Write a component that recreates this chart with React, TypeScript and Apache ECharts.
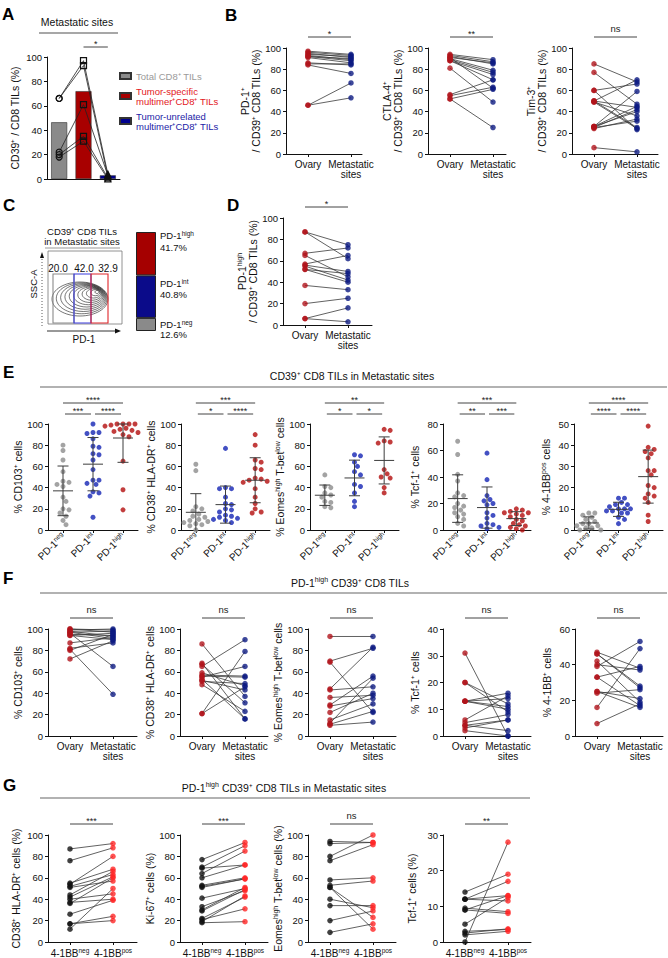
import React, { useEffect, useRef } from 'react';
import * as echarts from 'echarts';

const FONT = '"Liberation Sans", Arial, Helvetica, sans-serif';
const NB = '\u00a0';

// ---------- Panel A ----------
const aCategories = ['Total CD8⁺ TILs', 'Tumor-specific\nmultimer⁺CD8⁺ TILs', 'Tumor-unrelated\nmultimer⁺CD8⁺ TILs'];
const aBarValues = [46.5, 72, 3];
const aTotal = [66, 66, 22, 20, 18];
const aSpecific = [97, 93, 61, 35, 31];
const aUnrelated = [4, 2, 3, 1, 0];
const aSig = '*';

// ---------- Panel B ----------
const siteLabels = ['Ovary', 'Metastatic\nsites'];
const bPD1Ovary = [97, 96, 95, 94, 93, 92, 92, 91, 86, 85, 84, 46, 46];
const bPD1Meta = [94, 93, 91, 92, 89, 90, 88, 86, 84, 85, 76, 67, 53];
const bCTLA4Ovary = [94, 93, 92, 91, 90, 89, 88, 88, 81, 56, 55, 52, 52, 91];
const bCTLA4Meta = [89, 87, 85, 86, 79, 77, 75, 70, 49, 70, 63, 61, 25, 62];
const bTim3Ovary = [85, 77, 60, 60, 50, 50, 49, 49, 26, 26, 25, 25, 24, 6, 50, 26];
const bTim3Meta = [68, 47, 66, 23, 70, 44, 36, 24, 59, 45, 42, 31, 33, 2, 25, 40];
const bSig = ['*', '**', 'ns'];

// ---------- Panel C ----------
const cGatePct = [20.0, 42.0, 32.9];
const cGroups = ['neg', 'int', 'high'];
const cPct = [12.6, 40.8, 41.7];

// ---------- Panel D ----------
const dOvary = [87, 87, 67, 65, 57, 56, 55, 52, 52, 37, 20, 6, 6];
const dMeta = [75, 62, 72, 45, 65, 50, 42, 48, 40, 33, 25, 16, 3];
const dSig = '*';

// ---------- Panel E (PD-1 neg / int / high) ----------
const eCD103Neg = [80, 75, 66, 55, 46, 45, 43, 41, 31, 27, 20, 19, 16, 13, 9, 5];
const eCD103Int = [100, 92, 92, 91, 86, 79, 78, 72, 71, 66, 57, 47, 47, 44, 43, 36, 35, 32, 12];
const eCD103High = [100, 100, 100, 100, 99, 98, 98, 97, 96, 95, 94, 93, 92, 90, 88, 65, 38, 19];
const eCD38Neg = [62, 56, 22, 20, 18, 15, 13, 12, 10, 9, 8, 7, 6, 5, 4, 0];
const eCD38Int = [77, 40, 39, 39, 31, 25, 24, 20, 19, 17, 14, 13, 12, 11, 10, 9, 7];
const eCD38High = [90, 80, 66, 64, 58, 57, 49, 48, 47, 46, 45, 39, 31, 25, 20, 17, 16];
const eEomesNeg = [52, 41, 40, 35, 33, 31, 27, 26, 22, 21];
const eEomesInt = [71, 70, 64, 60, 55, 52, 43, 41, 35, 27, 22];
const eEomesHigh = [95, 94, 84, 83, 82, 57, 53, 50, 49, 40, 35];
const eTcfNeg = [67, 57, 42, 37, 28, 26, 25, 20, 18, 17, 15, 13, 12, 10, 8, 5, 3];
const eTcfInt = [58, 38, 26, 23, 22, 20, 19, 13, 11, 9, 5, 4, 3, 2, 1];
const eTcfHigh = [16, 15, 14, 13, 13, 12, 12, 11, 10, 8, 7, 5, 4, 3, 2, 1, 0];
const e41bbNeg = [8, 8, 7, 6, 5, 4, 3, 3, 2, 2, 1, 1, 0, 0, 0];
const e41bbInt = [15, 15, 13, 12, 12, 11, 10, 10, 10, 9, 9, 8, 8, 6, 5, 3];
const e41bbHigh = [49, 39, 38, 37, 36, 34, 28, 28, 26, 21, 20, 17, 16, 15, 13, 7, 4];
const eSigCD103 = ['****', '***', '****'];
const eSigCD38 = ['***', '*', '****'];
const eSigEomes = ['**', '*', '*'];
const eSigTcf = ['***', '**', '***'];
const eSig41bb = ['****', '****', '****'];

// ---------- Panel F (Ovary vs Metastatic sites) ----------
const fCD103Ovary = [100, 100, 99, 98, 97, 96, 95, 94, 94, 87, 82, 81, 80, 72, 97];
const fCD103Meta = [99, 97, 100, 93, 98, 65, 94, 90, 96, 92, 87, 39, 95, 89, 91];
const fCD38Ovary = [86, 68, 67, 65, 59, 57, 56, 55, 53, 52, 51, 48, 21, 21];
const fCD38Meta = [37, 16, 31, 90, 47, 56, 55, 65, 16, 43, 49, 23, 46, 79];
const fEomesOvary = [93, 70, 69, 44, 36, 29, 28, 22, 15, 12, 11, 10, 43];
const fEomesMeta = [93, 82, 22, 83, 38, 56, 35, 40, 30, 54, 23, 13, 46];
const fTcfOvary = [31, 20, 20, 13, 13, 13, 6, 5, 4, 4, 3, 2, 13];
const fTcfMeta = [0, 12, 9, 16, 14, 11, 15, 8, 2, 6, 6, 0, 10];
const f41bbOvary = [47, 46, 42, 40, 39, 33, 25, 25, 24, 16, 7, 46, 33];
const f41bbMeta = [38, 27, 19, 37, 53, 17, 21, 16, 26, 49, 18, 28, 39];
const fSig = ['ns', 'ns', 'ns', 'ns', 'ns'];

// ---------- Panel G (4-1BB neg vs pos) ----------
const gCD38Neg = [87, 76, 55, 54, 52, 51, 44, 42, 40, 37, 36, 26, 17, 17, 12];
const gCD38Pos = [92, 88, 68, 80, 63, 57, 66, 61, 45, 40, 60, 39, 24, 20, 50];
const gKi67Neg = [77, 70, 69, 64, 60, 53, 51, 41, 33, 30, 29, 22, 21, 19, 18, 52];
const gKi67Pos = [93, 90, 72, 85, 72, 60, 59, 50, 48, 51, 49, 42, 31, 43, 19, 59];
const gEomesNeg = [94, 92, 80, 76, 58, 53, 51, 51, 40, 34, 20, 9];
const gEomesPos = [93, 93, 100, 91, 60, 57, 12, 23, 32, 34, 29, 17];
const gTcfNeg = [14, 12, 12, 12, 9.5, 9, 9, 5, 3, 2.5, 2, 0];
const gTcfPos = [19, 17, 13, 11.5, 8.5, 13, 8, 12.5, 3.5, 3.7, 3, 28];
const gSig = ['***', '***', 'ns', '**'];

// ---------- styles ----------
const GRAY = '#8c8c8c';
const E_BLUE = '#1424b4';
const E_RED = '#b30c0c';
const OV_RED = '#b0141c';
const MET_BLUE = '#0d1a82';
const G_BLACK = '#111111';
const G_RED = '#ff2626';
const AX = { color: '#111', width: 1 };

const RICH_AX = {
  n: { fontSize: 10.5, fontFamily: FONT, color: '#111', lineHeight: 11, verticalAlign: 'bottom' },
  s: { fontSize: 7, fontFamily: FONT, color: '#111', lineHeight: 7, verticalAlign: 'top' },
};
const RICH_X = {
  n: { fontSize: 10, fontFamily: FONT, color: '#111', lineHeight: 11, verticalAlign: 'bottom' },
  s: { fontSize: 6.5, fontFamily: FONT, color: '#111', lineHeight: 7, verticalAlign: 'top' },
};
const RICH_G = {
  n: { fontSize: 10.5, fontFamily: FONT, fill: '#111', lineHeight: 12, verticalAlign: 'bottom' },
  s: { fontSize: 7, fontFamily: FONT, fill: '#111', lineHeight: 8, verticalAlign: 'top' },
};
const RICH_G9 = {
  n: { fontSize: 9.5, fontFamily: FONT, fill: '#111', lineHeight: 11, verticalAlign: 'bottom' },
  s: { fontSize: 6.5, fontFamily: FONT, fill: '#111', lineHeight: 7, verticalAlign: 'top' },
};

const sup = (a: string, b: string) => `{n|${a}}{s|${b}}`;
const nrm = (a: string) => `{n|${a}}`;

function mean(v: number[]) {
  return v.reduce((s, x) => s + x, 0) / v.length;
}
function sd(v: number[]) {
  const m = mean(v);
  return Math.sqrt(v.reduce((s, x) => s + (x - m) * (x - m), 0) / (v.length - 1));
}
function swarm(vals: number[], pxY: number, d: number): number[] {
  const order = vals.map((_, i) => i).sort((p, q) => vals[q] - vals[p]);
  const placed: number[][] = [];
  const out: number[] = new Array(vals.length).fill(0);
  for (const i of order) {
    const y = vals[i] * pxY;
    let x = 0;
    for (let k = 0; k < 30; k++) {
      const c = k === 0 ? 0 : (k % 2 ? 1 : -1) * Math.ceil(k / 2) * d * 0.6;
      if (placed.every(([px, py]) => (px - c) ** 2 + (py - y) ** 2 >= (d * 0.98) ** 2)) {
        x = c;
        break;
      }
    }
    placed.push([x, y]);
    out[i] = x;
  }
  return out;
}

function buildOption() {
  const grids: any[] = [];
  const xAxes: any[] = [];
  const yAxes: any[] = [];
  const series: any[] = [];
  const graphics: any[] = [];

  const addGrid = (r: any) => {
    grids.push({ ...r, containLabel: false, outerBoundsMode: 'none' });
    return grids.length - 1;
  };
  const yAxisCfg = (gi: number, max: number, interval: number, name: string, nameGap: number, show = true) => ({
    gridIndex: gi,
    type: 'value',
    min: 0,
    max,
    interval,
    show,
    axisLine: { show: true, onZero: false, lineStyle: AX },
    axisTick: { show: true, length: 3, lineStyle: AX },
    axisLabel: { fontSize: 9.5, color: '#111', margin: 5, fontFamily: FONT },
    splitLine: { show: false },
    name,
    nameLocation: 'middle',
    nameGap,
    nameRotate: 90,
    nameTextStyle: { rich: RICH_AX, fontSize: 10.5, color: '#111', fontFamily: FONT, lineHeight: 11 },
  });
  const txt = (x: number, y: number, text: string, o: any = {}) => {
    const align = o.align || 'center';
    const va = o.va || 'middle';
    graphics.push({
      type: 'text',
      silent: true,
      x,
      y,
      rotation: o.rotation || 0,
      style: {
        text,
        x: 0,
        y: 0,
        fill: o.fill || '#111',
        fontSize: o.fontSize || 10.5,
        fontFamily: FONT,
        fontWeight: o.fontWeight || 'normal',
        align,
        verticalAlign: va,
        textAlign: align,
        textVerticalAlign: va,
        rich: o.rich,
      },
    });
  };
  const hLine = (x1: number, x2: number, y: number, color = '#444', w = 1) => {
    graphics.push({ type: 'line', silent: true, shape: { x1, y1: y, x2, y2: y }, style: { stroke: color, lineWidth: w } });
  };
  const sigText = (x: number, lineY: number, label: string) => {
    const star = label.includes('*');
    txt(x, star ? lineY - 3 : lineY - 9, label, { fontSize: star ? 9 : 9.5, fill: '#222' });
  };

  // ---------------- Panel A ----------------
  const aRect = { left: 47, top: 57, width: 73, height: 122 };
  const gA = addGrid(aRect);
  xAxes.push({
    gridIndex: gA,
    type: 'category',
    data: aCategories,
    boundaryGap: true,
    axisLine: { show: true, lineStyle: AX },
    axisTick: { show: false },
    axisLabel: { show: false },
    splitLine: { show: false },
  });
  yAxes.push(yAxisCfg(gA, 100, 20, nrm('CD39⁺ / CD8 TILs (%)'), 27));
  const aColors = ['#8a8a8a', '#a80000', '#00008e'];
  aCategories.forEach((c, i) => {
    series.push({
      type: 'bar',
      name: c,
      xAxisIndex: gA,
      yAxisIndex: gA,
      data: aBarValues.map((v, j) => (j === i ? v : '-')),
      barWidth: 16,
      barGap: '-100%',
      itemStyle: { color: aColors[i], borderColor: '#333', borderWidth: 0.6 },
      silent: true,
      z: 1,
    });
  });
  aTotal.forEach((t, i) => {
    series.push({
      type: 'line',
      xAxisIndex: gA,
      yAxisIndex: gA,
      data: [
        { value: t, symbol: 'circle' },
        { value: aSpecific[i], symbol: 'rect' },
        { value: aUnrelated[i], symbol: 'triangle' },
      ],
      symbolSize: 6,
      showSymbol: true,
      lineStyle: { color: '#222', width: 0.8 },
      itemStyle: { color: 'rgba(255,255,255,0)', borderColor: '#111', borderWidth: 1.2 },
      silent: true,
      z: 3,
    });
  });
  txt(77, 22, 'Metastatic sites', { fontSize: 10.5 });
  hLine(39, 118, 33, '#8a8a8a', 1.5);
  {
    const band = aRect.width / 3;
    const x1 = aRect.left + band * 1.5;
    const x2 = aRect.left + band * 2.5;
    hLine(x1, x2, 47);
    sigText((x1 + x2) / 2, 47, aSig);
  }

  // ---------------- paired panels ----------------
  const pairedPanel = (rect: any, yMax: number, yInt: number, name: string, nameGap: number, a: number[], b: number[], colA: string, colB: string, xLabels: string[], sig: string) => {
    const gi = addGrid(rect);
    const unit = 43;
    const first = 22;
    const xmin = 1 - first / unit;
    const xmax = xmin + rect.width / unit;
    xAxes.push({
      gridIndex: gi,
      type: 'value',
      min: xmin,
      max: xmax,
      axisLine: { show: true, onZero: false, lineStyle: AX },
      axisTick: { show: true, customValues: [1, 2], length: 3, lineStyle: AX },
      axisLabel: {
        show: true,
        customValues: [1, 2],
        formatter: (v: number) => xLabels[Math.round(v) - 1] ?? '',
        fontSize: 10,
        color: '#111',
        margin: 5,
        lineHeight: 10.5,
        fontFamily: FONT,
        rich: RICH_X,
      },
      splitLine: { show: false },
    });
    yAxes.push(yAxisCfg(gi, yMax, yInt, name, nameGap));
    series.push({
      type: 'custom',
      coordinateSystem: 'cartesian2d',
      xAxisIndex: gi,
      yAxisIndex: gi,
      silent: true,
      z: 2,
      encode: { x: 0, y: 1 },
      data: a.map((v, i) => [1.5, v, b[i]]),
      renderItem: (params: any, api: any) => {
        const p1 = api.coord([1, api.value(1)]);
        const p2 = api.coord([2, api.value(2)]);
        return {
          type: 'line',
          shape: { x1: p1[0], y1: p1[1], x2: p2[0], y2: p2[1] },
          style: { stroke: '#3a3a3a', lineWidth: 0.8 },
        };
      },
    });
    series.push({ type: 'scatter', xAxisIndex: gi, yAxisIndex: gi, data: a.map((v) => [1, v]), symbolSize: 5.5, itemStyle: { color: colA }, silent: true, z: 3 });
    series.push({ type: 'scatter', xAxisIndex: gi, yAxisIndex: gi, data: b.map((v) => [2, v]), symbolSize: 5.5, itemStyle: { color: colB }, silent: true, z: 3 });
    const x1 = rect.left + first;
    const x2 = rect.left + first + unit;
    hLine(x1, x2, rect.top - 11);
    sigText((x1 + x2) / 2, rect.top - 11, sig);
  };

  const slash = nrm('/ CD39⁺ CD8 TILs (%)');
  // B
  pairedPanel({ left: 286, top: 48, width: 76, height: 106 }, 100, 20, nrm('PD-1⁺') + '\n' + slash, 23, bPD1Ovary, bPD1Meta, OV_RED, MET_BLUE, siteLabels, bSig[0]);
  pairedPanel({ left: 428, top: 48, width: 78, height: 106 }, 100, 20, nrm('CTLA-4⁺') + '\n' + slash, 23, bCTLA4Ovary, bCTLA4Meta, OV_RED, MET_BLUE, siteLabels, bSig[1]);
  pairedPanel({ left: 572, top: 48, width: 86, height: 106 }, 100, 20, nrm('Tim-3⁺') + '\n' + slash, 23, bTim3Ovary, bTim3Meta, OV_RED, MET_BLUE, siteLabels, bSig[2]);
  // D
  pairedPanel({ left: 283, top: 218, width: 89, height: 107 }, 100, 20, sup('PD-1', 'high') + '\n' + slash, 23, dOvary, dMeta, OV_RED, MET_BLUE, siteLabels, dSig);

  // ---------------- Panel C ----------------
  const cRect = { left: 136, top: 232, width: 20, height: 99 };
  const gC = addGrid(cRect);
  xAxes.push({ gridIndex: gC, type: 'category', data: ['PD-1'], show: false });
  yAxes.push({ gridIndex: gC, type: 'value', min: 0, max: cPct.reduce((s, v) => s + v, 0), show: false, splitLine: { show: false } });
  const cColors = ['#8a8a8a', '#0b0b8a', '#a50000'];
  cGroups.forEach((g, i) => {
    series.push({
      type: 'bar',
      name: 'PD-1 ' + g,
      xAxisIndex: gC,
      yAxisIndex: gC,
      stack: 'pd1',
      data: [cPct[i]],
      barWidth: cRect.width,
      itemStyle: { color: cColors[i], borderColor: '#222', borderWidth: 1 },
      silent: true,
      z: 2,
    });
  });
  const cLabelY = [
    [324, 334],
    [283, 294],
    [235, 247],
  ];
  cGroups.forEach((g, i) => {
    txt(160, cLabelY[i][0], sup('PD-1', g), { align: 'left', rich: RICH_G9, fontSize: 9.5 });
    txt(160, cLabelY[i][1], `${cPct[i].toFixed(1)}%`, { align: 'left', fontSize: 9.5 });
  });
  // flow cytometry sketch
  txt(82, 231, 'CD39⁺ CD8 TILs', { fontSize: 9.5 });
  txt(82, 241, 'in Metastatic sites', { fontSize: 9.5 });
  hLine(45, 120, 248, '#999', 1.2);
  graphics.push({ type: 'rect', silent: true, shape: { x: 48, y: 251, width: 74, height: 73 }, style: { fill: 'none', stroke: '#777', lineWidth: 0.8 } });
  for (let k = 0; k <= 10; k++) {
    const t = k / 10;
    graphics.push({
      type: 'ellipse',
      silent: true,
      shape: { cx: 80 + 17 * t, cy: 299 - 7 * t, rx: 2 + 26 * (1 - t), ry: 1.5 + 15.5 * (1 - t) },
      style: { fill: 'none', stroke: '#1a1a1a', lineWidth: 0.6 },
    });
  }
  const gates = [
    { x1: 53, x2: 74, c: '#8a8a8a' },
    { x1: 74, x2: 91, c: '#3b3bdc' },
    { x1: 91, x2: 108, c: '#e0262b' },
  ];
  gates.forEach((g) => {
    graphics.push({ type: 'rect', silent: true, shape: { x: g.x1, y: 274, width: g.x2 - g.x1, height: 49 }, style: { fill: 'none', stroke: g.c, lineWidth: 1.1 } });
  });
  const gateCenters = [58, 84, 108];
  cGatePct.forEach((p, i) => txt(gateCenters[i], 268, p.toFixed(1), { fontSize: 10 }));
  graphics.push({ type: 'line', silent: true, shape: { x1: 42, y1: 256, x2: 42, y2: 326 }, style: { stroke: '#333', lineWidth: 0.8, lineDash: [1, 2] } });
  graphics.push({ type: 'polygon', silent: true, shape: { points: [[40, 258], [44, 258], [42, 252]] }, style: { fill: '#111' } });
  graphics.push({ type: 'line', silent: true, shape: { x1: 47, y1: 331, x2: 116, y2: 331 }, style: { stroke: '#333', lineWidth: 1 } });
  graphics.push({ type: 'polygon', silent: true, shape: { points: [[115, 328.5], [115, 333.5], [121, 331]] }, style: { fill: '#111' } });
  txt(33, 284, 'SSC-A', { fontSize: 9.5, rotation: Math.PI / 2 });
  txt(84, 339, 'PD-1', { fontSize: 10 });

  // ---------------- Panel E ----------------
  const E_X_LABELS = [sup('PD-1', 'neg'), sup('PD-1', 'int'), sup('PD-1', 'high')];
  const dotPanel = (rect: any, yMax: number, yInt: number, name: string, groups: number[][], sig: string[]) => {
    const gi = addGrid(rect);
    xAxes.push({
      gridIndex: gi,
      type: 'value',
      min: -0.5,
      max: 2.5,
      axisLine: { show: true, onZero: false, lineStyle: AX },
      axisTick: { show: true, customValues: [0, 1, 2], length: 3, lineStyle: AX },
      axisLabel: {
        show: true,
        customValues: [0, 1, 2],
        rotate: 45,
        margin: 4,
        fontSize: 10,
        color: '#111',
        fontFamily: FONT,
        formatter: (v: number) => E_X_LABELS[Math.round(v)] ?? '',
        rich: RICH_X,
      },
      splitLine: { show: false },
    });
    yAxes.push(yAxisCfg(gi, yMax, yInt, name, 23));
    const pxCat = rect.width / 3;
    const pxY = rect.height / yMax;
    const cols = [GRAY, E_BLUE, E_RED];
    groups.forEach((vals, ci) => {
      const offs = swarm(vals, pxY, 5);
      series.push({
        type: 'scatter',
        xAxisIndex: gi,
        yAxisIndex: gi,
        data: vals.map((v, k) => [ci + offs[k] / pxCat, v]),
        symbolSize: 5,
        itemStyle: { color: cols[ci] },
        silent: true,
        z: 3,
      });
    });
    series.push({
      type: 'custom',
      coordinateSystem: 'cartesian2d',
      xAxisIndex: gi,
      yAxisIndex: gi,
      silent: true,
      z: 4,
      encode: { x: 0, y: 1 },
      data: groups.map((vals, ci) => [ci, mean(vals), sd(vals)]),
      renderItem: (params: any, api: any) => {
        const c = api.value(0);
        const m = api.value(1);
        const s = api.value(2);
        const lo = Math.max(0, m - s);
        const hi = Math.min(yMax, m + s);
        const pm = api.coord([c, m]);
        const pl = api.coord([c, lo]);
        const ph = api.coord([c, hi]);
        const st = { stroke: '#3d3d3d', lineWidth: 1 };
        const children: any[] = [
          { type: 'line', shape: { x1: pl[0], y1: pl[1], x2: ph[0], y2: ph[1] }, style: st },
          { type: 'line', shape: { x1: pm[0] - 10, y1: pm[1], x2: pm[0] + 10, y2: pm[1] }, style: st },
          { type: 'line', shape: { x1: ph[0] - 5.5, y1: ph[1], x2: ph[0] + 5.5, y2: ph[1] }, style: st },
        ];
        if (m - s > 0) children.push({ type: 'line', shape: { x1: pl[0] - 5.5, y1: pl[1], x2: pl[0] + 5.5, y2: pl[1] }, style: st });
        return { type: 'group', children };
      },
    });
    const cx = [0, 1, 2].map((i) => rect.left + (i + 0.5) * pxCat);
    const yTop = rect.top - 21;
    const yLow = rect.top - 10;
    hLine(cx[0], cx[2], yTop);
    sigText((cx[0] + cx[2]) / 2, yTop, sig[0]);
    hLine(cx[0] + 2, cx[1] - 2, yLow);
    sigText((cx[0] + cx[1]) / 2, yLow, sig[1]);
    hLine(cx[1] + 2, cx[2] - 2, yLow);
    sigText((cx[1] + cx[2]) / 2, yLow, sig[2]);
  };

  const eomesName = sup('% Eomes', 'high') + sup(NB + 'T-bet', 'low') + nrm(NB + 'cells');
  dotPanel({ left: 48, top: 424, width: 90, height: 106 }, 100, 20, nrm('% CD103⁺ cells'), [eCD103Neg, eCD103Int, eCD103High], eSigCD103);
  dotPanel({ left: 181, top: 424, width: 89, height: 106 }, 100, 20, nrm('% CD38⁺ HLA-DR⁺ cells'), [eCD38Neg, eCD38Int, eCD38High], eSigCD38);
  dotPanel({ left: 310, top: 424, width: 89, height: 106 }, 100, 20, eomesName, [eEomesNeg, eEomesInt, eEomesHigh], eSigEomes);
  dotPanel({ left: 443, top: 424, width: 88, height: 106 }, 80, 20, nrm('% Tcf-1⁺ cells'), [eTcfNeg, eTcfInt, eTcfHigh], eSigTcf);
  dotPanel({ left: 574, top: 424, width: 89, height: 106 }, 50, 10, sup('% 4-1BB', 'pos') + nrm(NB + 'cells'), [e41bbNeg, e41bbInt, e41bbHigh], eSig41bb);
  txt(352, 376, 'CD39⁺ CD8 TILs in Metastatic sites', { fontSize: 10.5 });
  hLine(40, 667, 387, '#999', 1.5);

  // ---------------- Panel F ----------------
  pairedPanel({ left: 48, top: 629, width: 89, height: 107 }, 100, 20, nrm('% CD103⁺ cells'), 23, fCD103Ovary, fCD103Meta, OV_RED, MET_BLUE, siteLabels, fSig[0]);
  pairedPanel({ left: 180, top: 629, width: 88, height: 107 }, 100, 20, nrm('% CD38⁺ HLA-DR⁺ cells'), 23, fCD38Ovary, fCD38Meta, OV_RED, MET_BLUE, siteLabels, fSig[1]);
  pairedPanel({ left: 308, top: 629, width: 88, height: 107 }, 100, 20, eomesName, 23, fEomesOvary, fEomesMeta, OV_RED, MET_BLUE, siteLabels, fSig[2]);
  pairedPanel({ left: 443, top: 629, width: 88, height: 107 }, 40, 10, nrm('% Tcf-1⁺ cells'), 23, fTcfOvary, fTcfMeta, OV_RED, MET_BLUE, siteLabels, fSig[3]);
  pairedPanel({ left: 575, top: 629, width: 88, height: 107 }, 60, 20, nrm('% 4-1BB⁺ cells'), 23, f41bbOvary, f41bbMeta, OV_RED, MET_BLUE, siteLabels, fSig[4]);
  txt(350, 582, sup('PD-1', 'high') + nrm(NB + 'CD39⁺ CD8 TILs'), { rich: RICH_G });
  hLine(40, 667, 593, '#999', 1.5);

  // ---------------- Panel G ----------------
  const bbLabels = [sup('4-1BB', 'neg'), sup('4-1BB', 'pos')];
  pairedPanel({ left: 48, top: 835, width: 89, height: 107 }, 100, 20, nrm('CD38⁺ HLA-DR⁺ cells (%)'), 27, gCD38Neg, gCD38Pos, G_BLACK, G_RED, bbLabels, gSig[0]);
  pairedPanel({ left: 180, top: 835, width: 88, height: 107 }, 100, 20, nrm('Ki-67⁺ cells (%)'), 25, gKi67Neg, gKi67Pos, G_BLACK, G_RED, bbLabels, gSig[1]);
  pairedPanel({ left: 308, top: 835, width: 88, height: 107 }, 100, 20, sup('Eomes', 'high') + sup(NB + 'T-bet', 'low') + nrm(NB + 'cells (%)'), 25, gEomesNeg, gEomesPos, G_BLACK, G_RED, bbLabels, gSig[2]);
  pairedPanel({ left: 443, top: 835, width: 88, height: 107 }, 30, 10, nrm('Tcf-1⁺ cells (%)'), 26, gTcfNeg, gTcfPos, G_BLACK, G_RED, bbLabels, gSig[3]);
  txt(284, 787, sup('PD-1', 'high') + nrm(NB + 'CD39⁺ CD8 TILs in Metastatic sites'), { rich: RICH_G });
  hLine(40, 530, 798, '#999', 1.5);

  // ---------------- panel letters ----------------
  const letters: [string, number, number][] = [
    ['A', 2, 14],
    ['B', 225, 15],
    ['C', 3, 205],
    ['D', 227, 205],
    ['E', 3, 372],
    ['F', 3, 578],
    ['G', 3, 785],
  ];
  letters.forEach(([l, x, y]) => txt(x, y, l, { align: 'left', fontSize: 17, fontWeight: 'bold', fill: '#000' }));

  return {
    animation: false,
    backgroundColor: '#ffffff',
    textStyle: { fontFamily: FONT },
    grid: grids,
    xAxis: xAxes,
    yAxis: yAxes,
    series,
    legend: {
      orient: 'vertical',
      left: 114,
      top: 66,
      itemWidth: 11,
      itemHeight: 6,
      itemGap: 5,
      icon: 'rect',
      selectedMode: false,
      textStyle: { fontSize: 9.5, lineHeight: 10, fontFamily: FONT },
      data: [
        { name: aCategories[0], textStyle: { color: '#9a9a9a' } },
        { name: aCategories[1], textStyle: { color: '#e3171c' } },
        { name: aCategories[2], textStyle: { color: '#1c1ca6' } },
      ],
    },
    graphic: { elements: graphics },
  };
}

export default function App() {
  const ref = useRef<HTMLDivElement>(null);
  useEffect(() => {
    if (!ref.current) return;
    const chart = echarts.init(ref.current, null, { renderer: 'svg', width: 668, height: 958 });
    chart.setOption(buildOption() as any);
    return () => chart.dispose();
  }, []);
  return <div ref={ref} style={{ position: 'absolute', left: 0, top: 0, width: 668, height: 958, background: '#fff' }} />;
}
